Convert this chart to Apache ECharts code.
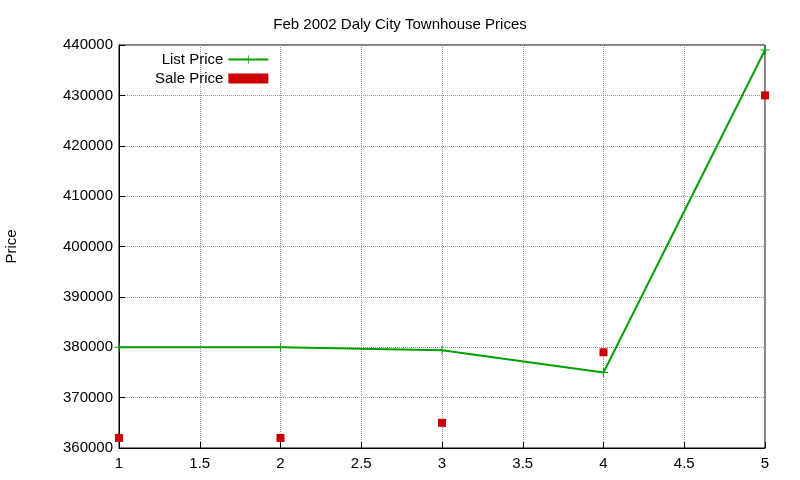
<!DOCTYPE html>
<html><head><meta charset="utf-8">
<script src="https://cdn.jsdelivr.net/npm/echarts@6/dist/echarts.min.js"></script>
<style>html,body{margin:0;padding:0;background:#fff}#c{width:800px;height:480px}</style>
</head><body><div id="c"></div>
<script>
const xList = [1, 2, 3, 4, 5];
const listPrice = [380000, 380000, 379400, 375000, 439000];
const salePrice = [362000, 362000, 365000, 379000, 430000];
const chart = echarts.init(document.getElementById('c'));
const ff = 'Liberation Sans, Arial, sans-serif';
const plus = 'path://M-1,-0.1L1,-0.1L1,0.1L-1,0.1Z M-0.1,-1L0.1,-1L0.1,1L-0.1,1Z';
chart.setOption({
  animation: false,
  title: {text: 'Feb 2002 Daly City Townhouse Prices', left: 'center', top: 12,
    textStyle: {fontFamily: ff, fontSize: 15, fontWeight: 'normal', color: '#000'}},
  legend: {orient: 'vertical', left: 150, top: 47, align: 'right', itemGap: 4, itemWidth: 40, itemHeight: 10,
    textStyle: {fontFamily: ff, fontSize: 15, color: '#000'},
    data: [{name: 'List Price'}, {name: 'Sale Price', icon: 'rect', itemStyle: {color: '#cc0000'}}]},
  grid: {left: 119, right: 35, top: 45, bottom: 32, containLabel: false, outerBoundsMode: 'none',
    show: true, borderColor: '#000', borderWidth: 1},
  xAxis: {type: 'value', min: 1, max: 5, interval: 0.5,
    axisLine: {lineStyle: {color: '#000'}}, axisTick: {inside: true, length: 6, lineStyle: {color: '#000'}},
    axisLabel: {fontFamily: ff, fontSize: 15, color: '#000', margin: 8},
    splitLine: {lineStyle: {type: 'dotted', color: '#999'}}},
  yAxis: {type: 'value', min: 360000, max: 440000, interval: 10000, name: 'Price', nameLocation: 'middle', nameGap: 100,
    nameTextStyle: {fontFamily: ff, fontSize: 15, color: '#000'},
    axisLine: {lineStyle: {color: '#000'}}, axisTick: {inside: true, length: 6, lineStyle: {color: '#000'}},
    axisLabel: {fontFamily: ff, fontSize: 15, color: '#000', margin: 6, formatter: v => String(v)},
    splitLine: {lineStyle: {type: 'dotted', color: '#999'}}},
  series: [
    {name: 'List Price', type: 'line', data: xList.map((x, i) => [x, listPrice[i]]),
      color: '#00a000', lineStyle: {width: 2, color: '#00a000'}, symbol: plus, symbolSize: 9,
      itemStyle: {color: '#00a000'}},
    {name: 'Sale Price', type: 'scatter', data: xList.map((x, i) => [x, salePrice[i]]),
      symbol: 'rect', symbolSize: 8, itemStyle: {color: '#cc0000', opacity: 1}, color: '#cc0000'}
  ]
});
</script></body></html>
